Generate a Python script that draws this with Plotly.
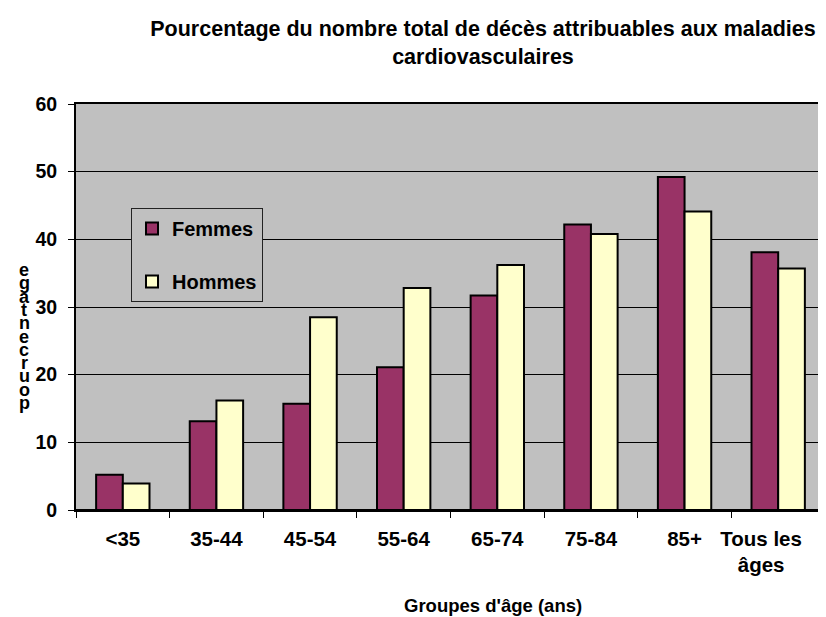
# === IMPORTS ===
import plotly.graph_objects as go


# === DONNÉES ===
groupes = ['<35', '35-44', '45-54', '55-64', '65-74', '75-84', '85+', 'Tous les<br>âges']
femmes = [5.2, 13.1, 15.7, 21.1, 31.7, 42.2, 49.2, 38.1]
hommes = [3.9, 16.2, 28.5, 32.8, 36.2, 40.8, 44.1, 35.7]
ticks_y = [0, 10, 20, 30, 40, 50, 60]

titre = 'Pourcentage du nombre total de décès attribuables aux maladies<br>cardiovasculaires'
titre_x = "Groupes d'âge (ans)"
titre_y = 'pourcentage'

POLICE = 'Arial, Liberation Sans, sans-serif'

# la page décale la figure de 8 px (marge du body)
OFF = 8
LARG, HAUT = 826 - OFF, 617 - OFF
# zone de tracé (pixels à l'écran)
G, D, H, B = 76, 825, 104, 510


def px_x(x):
    return (x - G) / (D - G)


def px_y(y):
    return (B - y) / (B - H)


# dernière étiquette décalée vers la gauche comme dans l'original (bord de l'image)
NBSP = '\u00a0' * 6
etiquettes = ['<b>' + g + '</b>' for g in groupes]
etiquettes[-1] = '<b>Tous les' + NBSP + '<br>âges' + NBSP + '</b>'


# === FIGURE ===
fig = go.Figure()
fig.add_trace(go.Bar(
    x=groupes, y=femmes, name='<b>Femmes</b>', legendgroup='f',
    marker=dict(color='#993366', line=dict(color='black', width=2)),
))
fig.add_trace(go.Bar(
    x=groupes, y=hommes, name='<b>Hommes</b>', legendgroup='h',
    marker=dict(color='#FFFFCC', line=dict(color='black', width=2)),
))

fig.update_layout(
    width=LARG, height=HAUT,
    margin=dict(l=G - OFF, r=826 - D, t=H - OFF, b=617 - B),
    paper_bgcolor='white',
    plot_bgcolor='#C0C0C0',
    font=dict(family=POLICE, color='black'),
    barmode='group',
    bargap=0.43,
    bargroupgap=0,
    title=dict(
        text='<b>' + titre + '</b>',
        x=(483 - OFF) / LARG, xanchor='center', y=1 - 28 / HAUT, yanchor='top',
        font=dict(size=21.5, family=POLICE),
    ),
    legend=dict(
        x=px_x(131), y=px_y(208), xanchor='left', yanchor='top',
        bgcolor='#C0C0C0', bordercolor='#222222', borderwidth=1,
        font=dict(size=20, family=POLICE),
        traceorder='grouped', tracegroupgap=24,
        itemwidth=30,
    ),
    showlegend=True,
)

fig.update_xaxes(
    automargin=False,
    showline=True, linecolor='black', linewidth=2, mirror=True,
    ticks='outside', tickson='boundaries', ticklen=6, tickcolor='black',
    tickfont=dict(size=20.5, family=POLICE), ticklabelstandoff=9, tickangle=0,
    showgrid=False,
    tickvals=groupes, ticktext=etiquettes,
)
fig.update_yaxes(
    automargin=False,
    range=[0, 60], tickvals=ticks_y, ticktext=['<b>' + str(v) + '</b>' for v in ticks_y],
    showline=True, linecolor='black', linewidth=2, mirror=True,
    ticks='outside', ticklen=6, tickcolor='black',
    tickfont=dict(size=19.5, family=POLICE), ticklabelstandoff=7,
    showgrid=True, gridcolor='black', gridwidth=1,
    zeroline=True, zerolinecolor='black', zerolinewidth=2,
)

# Titre de l'axe X
fig.add_annotation(
    text='<b>' + titre_x + '</b>', xref='paper', yref='paper',
    x=px_x(493), y=px_y(605),
    showarrow=False, xanchor='center', yanchor='middle',
    font=dict(size=18.5, family=POLICE),
)

# Titre de l'axe Y : lettres empilées (de bas en haut)
lettres = list(titre_y)[::-1]
for i, c in enumerate(lettres):
    fig.add_annotation(
        text='<b>' + c + '</b>', xref='paper', yref='paper',
        x=px_x(24), y=px_y(270 + i * 13.3),
        showarrow=False, xanchor='center', yanchor='middle',
        font=dict(size=18, family=POLICE),
    )

fig.write_html("out.html")
